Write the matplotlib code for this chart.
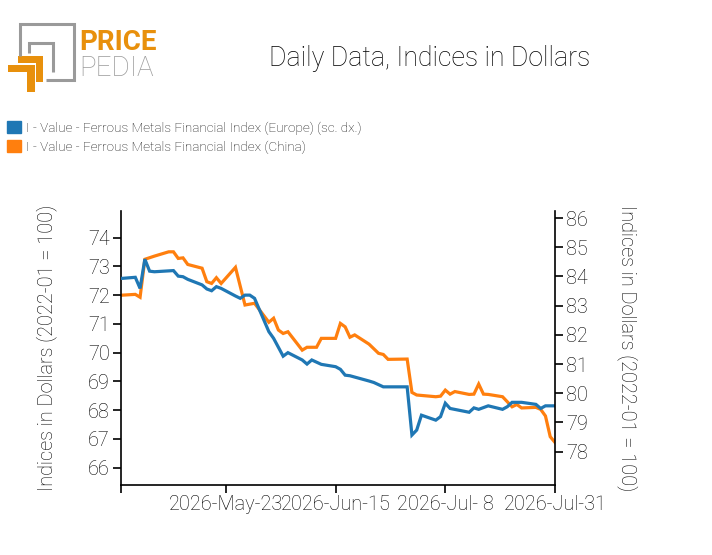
import matplotlib
matplotlib.use("Agg")
import matplotlib.pyplot as plt
import matplotlib.dates as mdates
from matplotlib.patches import Patch, Polygon
from matplotlib.lines import Line2D
import pandas as pd

# ---------------- data ----------------
china_dates = ["2026-05-01", "2026-05-04", "2026-05-05", "2026-05-06", "2026-05-08",
               "2026-05-11", "2026-05-12", "2026-05-13", "2026-05-14", "2026-05-15",
               "2026-05-18", "2026-05-19", "2026-05-20", "2026-05-21", "2026-05-22",
               "2026-05-25", "2026-05-27", "2026-05-29", "2026-06-01", "2026-06-02",
               "2026-06-03", "2026-06-04", "2026-06-05", "2026-06-08", "2026-06-09",
               "2026-06-11", "2026-06-12", "2026-06-15", "2026-06-16", "2026-06-17",
               "2026-06-18", "2026-06-19", "2026-06-22", "2026-06-24", "2026-06-25",
               "2026-06-26", "2026-06-30", "2026-07-01", "2026-07-02", "2026-07-06",
               "2026-07-07", "2026-07-08", "2026-07-09", "2026-07-10", "2026-07-13",
               "2026-07-14", "2026-07-15", "2026-07-16", "2026-07-17", "2026-07-20",
               "2026-07-22", "2026-07-23", "2026-07-24", "2026-07-27", "2026-07-28",
               "2026-07-29", "2026-07-30", "2026-07-31"]
china_values = [72.00, 72.03, 71.93, 73.25, 73.36,
                73.51, 73.51, 73.28, 73.30, 73.07,
                72.94, 72.47, 72.41, 72.61, 72.41,
                72.97, 71.66, 71.72, 71.06, 71.20,
                70.79, 70.67, 70.73, 70.09, 70.19,
                70.19, 70.50, 70.50, 71.02, 70.90,
                70.54, 70.62, 70.30, 69.98, 69.94,
                69.77, 69.78, 68.62, 68.53, 68.47,
                68.49, 68.70, 68.56, 68.65, 68.55,
                68.56, 68.91, 68.56, 68.55, 68.47,
                68.12, 68.20, 68.08, 68.10, 68.03,
                67.80, 67.08, 66.88]

europe_dates = ["2026-05-01", "2026-05-04", "2026-05-05", "2026-05-06", "2026-05-07",
                "2026-05-08", "2026-05-11", "2026-05-12", "2026-05-13", "2026-05-14",
                "2026-05-15", "2026-05-18", "2026-05-19", "2026-05-20", "2026-05-21",
                "2026-05-22", "2026-05-25", "2026-05-26", "2026-05-27", "2026-05-28",
                "2026-05-29", "2026-06-01", "2026-06-02", "2026-06-04", "2026-06-05",
                "2026-06-08", "2026-06-09", "2026-06-10", "2026-06-12", "2026-06-15",
                "2026-06-16", "2026-06-17", "2026-06-18", "2026-06-22", "2026-06-23",
                "2026-06-25", "2026-06-30", "2026-07-01", "2026-07-02", "2026-07-03",
                "2026-07-06", "2026-07-07", "2026-07-08", "2026-07-09", "2026-07-13",
                "2026-07-14", "2026-07-15", "2026-07-17", "2026-07-20", "2026-07-21",
                "2026-07-22", "2026-07-24", "2026-07-27", "2026-07-28", "2026-07-29",
                "2026-07-31"]
europe_values = [83.93, 83.97, 83.59, 84.59, 84.18,
                 84.16, 84.19, 84.20, 84.01, 83.99,
                 83.90, 83.71, 83.57, 83.51, 83.65,
                 83.59, 83.33, 83.25, 83.36, 83.36,
                 83.25, 82.11, 81.88, 81.27, 81.39,
                 81.14, 81.00, 81.14, 80.99, 80.91,
                 80.82, 80.62, 80.60, 80.42, 80.37,
                 80.22, 80.22, 78.57, 78.74, 79.25,
                 79.08, 79.20, 79.66, 79.48, 79.35,
                 79.50, 79.45, 79.57, 79.45, 79.54,
                 79.69, 79.69, 79.62, 79.48, 79.57,
                 79.57]

x_ticks = ["2026-05-01", "2026-05-23", "2026-06-15", "2026-07-08", "2026-07-31"]
x_tick_labels = ["", "2026-May-23", "2026-Jun-15", "2026-Jul- 8", "2026-Jul-31"]
left_ticks = [66, 67, 68, 69, 70, 71, 72, 73, 74]
right_ticks = [78, 79, 80, 81, 82, 83, 84, 85, 86]

title = "Daily Data, Indices in Dollars"
ylabel = "Indices in Dollars (2022-01 = 100)"
label_europe = "I - Value - Ferrous Metals Financial Index (Europe) (sc. dx.)"
label_china = "I - Value - Ferrous Metals Financial Index (China)"

BLUE = "#1f77b4"
ORANGE = "#ff7f0e"
TXT = "#000000"

# ---------------- figure ----------------
plt.rcParams['font.family'] = ['Roboto', 'DejaVu Sans']
W, H = 712, 555
fig = plt.figure(figsize=(W / 100, H / 100), dpi=100)

def fx(px):
    return px / W

def fy(py):
    return 1 - py / H

ax_left, ax_right, ax_top, ax_bottom = 121, 555, 210.7, 485
ax = fig.add_axes([fx(ax_left), fy(ax_bottom), fx(ax_right - ax_left), (ax_bottom - ax_top) / H])
ax2 = ax.twinx()

cd = pd.to_datetime(china_dates)
ed = pd.to_datetime(europe_dates)
ax.plot(cd, china_values, color=ORANGE, lw=2.3, solid_joinstyle='miter')
ax2.plot(ed, europe_values, color=BLUE, lw=2.3, solid_joinstyle='miter')

ax.set_xlim(pd.Timestamp("2026-05-01"), pd.Timestamp("2026-07-31"))
ax.set_ylim(65.40, 74.94)
ax2.set_ylim(76.86, 86.25)

ax.set_xticks(pd.to_datetime(x_ticks))
ax.set_xticklabels(x_tick_labels)
ax.set_yticks(left_ticks)
ax.set_yticklabels([str(t) for t in left_ticks])
ax2.set_yticks(right_ticks)
ax2.set_yticklabels([str(t) for t in right_ticks])

for a in (ax, ax2):
    a.spines['top'].set_visible(False)
    a.tick_params(labelsize=14.3, length=6, width=1.2, color='black', labelcolor=TXT, pad=2)
    a.patch.set_visible(False)
    for lab in a.get_xticklabels() + a.get_yticklabels():
        lab.set_fontweight('light')
ax.spines['right'].set_visible(False)
ax2.spines['left'].set_visible(False)
ax2.spines['bottom'].set_visible(False)
for s in ('left', 'bottom'):
    ax.spines[s].set_linewidth(1.2)
ax2.spines['right'].set_linewidth(1.2)
ax.tick_params(axis='x', pad=1)

ax.set_ylabel(ylabel, fontsize=14.3, color=TXT, labelpad=22, fontweight='light')
ax2.set_ylabel(ylabel, fontsize=14.3, color=TXT, rotation=-90, labelpad=36, fontweight='light')

# title
fig.text(fx(430), fy(58), title, fontsize=19.2, ha='center', va='center', color=TXT,
         fontweight='light')

# legend
handles = [Patch(facecolor=BLUE, edgecolor=BLUE), Patch(facecolor=ORANGE, edgecolor=ORANGE)]
fig.legend(handles, [label_europe, label_china], loc='upper left',
           bbox_to_anchor=(fx(2), fy(116)), frameon=False,
           prop={'size': 9.7, 'weight': 'light'},
           handlelength=1.0, handleheight=1.0, handletextpad=0.4, labelspacing=0.4,
           borderaxespad=0, labelcolor='#111111')

# logo
GRAY = "#9a9a9a"
LOGO_OR = "#e8900c"
def fline(xs, ys, color, lw):
    fig.add_artist(Line2D([fx(v) for v in xs], [fy(v) for v in ys], color=color, lw=lw,
                          solid_joinstyle='miter', solid_capstyle='butt'))
fline([20, 20, 74, 74, 46], [56, 24, 24, 80, 80], GRAY, 2.2)
fline([29, 29, 53, 53], [53, 43, 43, 72], GRAY, 2.2)
def fpoly(pts, color):
    fig.add_artist(Polygon([(fx(a), fy(b)) for a, b in pts], closed=True,
                           facecolor=color, edgecolor='none'))
fpoly([(18, 56), (43, 56), (43, 82), (36, 82), (36, 63), (18, 63)], LOGO_OR)
fpoly([(8, 65), (35, 65), (35, 92), (27, 92), (27, 72), (8, 72)], LOGO_OR)
fig.text(fx(79), fy(50), "PRICE", fontsize=20, fontweight='bold', color=LOGO_OR,
         ha='left', va='baseline')
fig.text(fx(79), fy(76), "PEDIA", fontsize=20, fontweight='light', color=GRAY,
         ha='left', va='baseline')

fig.savefig("out.png", dpi=100)
